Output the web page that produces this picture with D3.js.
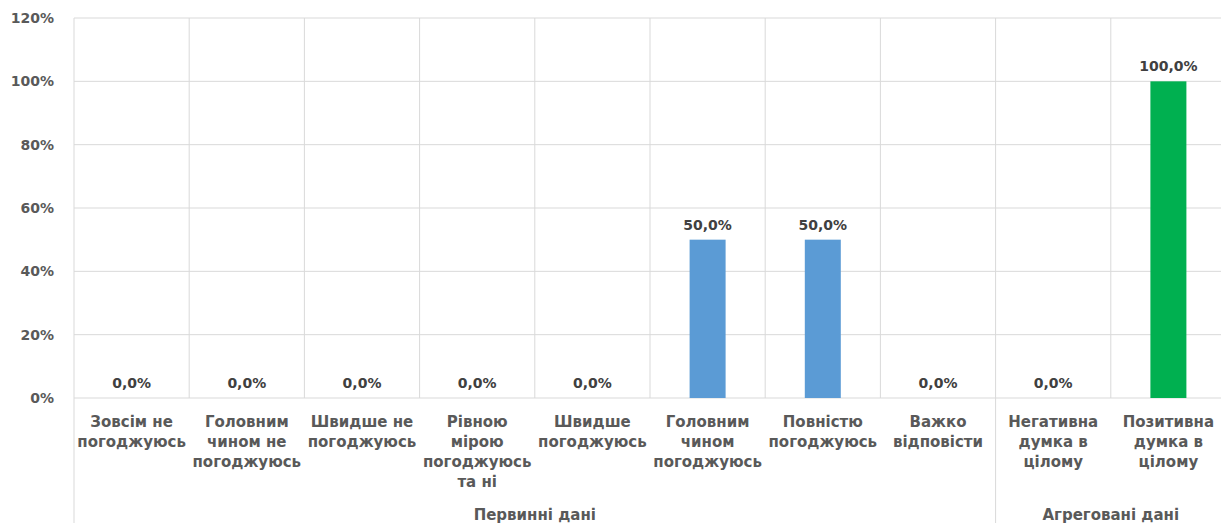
<!DOCTYPE html>
<html><head><meta charset="utf-8">
<script src="https://cdn.jsdelivr.net/npm/d3@7/dist/d3.min.js"></script>
<style>
html,body{margin:0;padding:0;background:#fff;}
svg{display:block;}
text{font-family:"DejaVu Sans",sans-serif;font-weight:bold;}
</style></head>
<body>
<svg id="chart" width="1221" height="523"></svg>
<script>
const categories = [
  "Зовсім не\nпогоджуюсь",
  "Головним\nчином не\nпогоджуюсь",
  "Швидше не\nпогоджуюсь",
  "Рівною\nмірою\nпогоджуюсь\nта ні",
  "Швидше\nпогоджуюсь",
  "Головним\nчином\nпогоджуюсь",
  "Повністю\nпогоджуюсь",
  "Важко\nвідповісти",
  "Негативна\nдумка в\nцілому",
  "Позитивна\nдумка в\nцілому"
];
const values = [0, 0, 0, 0, 0, 50, 50, 0, 0, 100];
const seriesColors = ["#5B9BD5","#5B9BD5","#5B9BD5","#5B9BD5","#5B9BD5","#5B9BD5","#5B9BD5","#5B9BD5","#00B050","#00B050"];
const groupNames = ["Первинні дані", "Агреговані дані"];
const groupSizes = [8, 2];
const yTicks = [0, 20, 40, 60, 80, 100, 120];

(function(){
const svg = d3.select("#chart");
const mLeft = 74, mRight = 1226, mTop = 18, mBottom = 398;
const x = d3.scaleBand().domain(d3.range(categories.length)).range([mLeft, mRight]).padding(0);
const y = d3.scaleLinear().domain([0, 120]).range([mBottom, mTop]);
const grid = "#d9d9d9";

svg.append("g").selectAll("line").data(yTicks).join("line")
  .attr("x1", mLeft).attr("x2", mRight)
  .attr("y1", d => y(d)).attr("y2", d => y(d))
  .attr("stroke", grid).attr("stroke-width", 1);

const groupStarts = [];
let acc = 0;
groupSizes.forEach(s => { groupStarts.push(acc); acc += s; });

const sepIdx = d3.range(categories.length + 1);
svg.append("g").selectAll("line").data(sepIdx).join("line")
  .attr("x1", i => i < categories.length ? x(i) : mRight)
  .attr("x2", i => i < categories.length ? x(i) : mRight)
  .attr("y1", mTop)
  .attr("y2", i => (groupStarts.includes(i) || i === categories.length) ? 523 : mBottom)
  .attr("stroke", grid).attr("stroke-width", 1);

svg.append("g").selectAll("text").data(yTicks).join("text")
  .attr("x", 54).attr("y", d => y(d)).attr("dy", "0.35em")
  .attr("text-anchor", "end").attr("font-size", 14).attr("fill", "#595959")
  .text(d => d + "%");

const barW = 36;
svg.append("g").selectAll("rect").data(values).join("rect")
  .attr("x", (d, i) => x(i) + (x.bandwidth() - barW) / 2)
  .attr("width", barW)
  .attr("y", d => y(d))
  .attr("height", d => y(0) - y(d))
  .attr("fill", (d, i) => seriesColors[i]);

const fmt = v => v.toFixed(1).replace(".", ",") + "%";
svg.append("g").selectAll("text").data(values).join("text")
  .attr("x", (d, i) => x(i) + x.bandwidth() / 2)
  .attr("y", d => y(d) - 15).attr("dy", "0.35em")
  .attr("text-anchor", "middle").attr("font-size", 14).attr("fill", "#404040")
  .text(fmt);

const catG = svg.append("g").selectAll("text").data(categories).join("text")
  .attr("text-anchor", "middle").attr("font-size", 15).attr("fill", "#595959");
catG.each(function(c, i) {
  const t = d3.select(this);
  c.split("\n").forEach((line, k) => {
    t.append("tspan").attr("x", x(i) + x.bandwidth() / 2)
      .attr("y", 422 + k * 20).attr("dy", "0.35em").text(line);
  });
});

svg.append("g").selectAll("text").data(groupNames).join("text")
  .attr("x", (d, g) => {
    const a = x(groupStarts[g]);
    const e = groupStarts[g] + groupSizes[g] < categories.length ? x(groupStarts[g] + groupSizes[g]) : mRight;
    return (a + e) / 2;
  })
  .attr("y", 515).attr("dy", "0.35em")
  .attr("text-anchor", "middle").attr("font-size", 15).attr("fill", "#595959")
  .text(d => d);
})();
</script>
</body></html>
